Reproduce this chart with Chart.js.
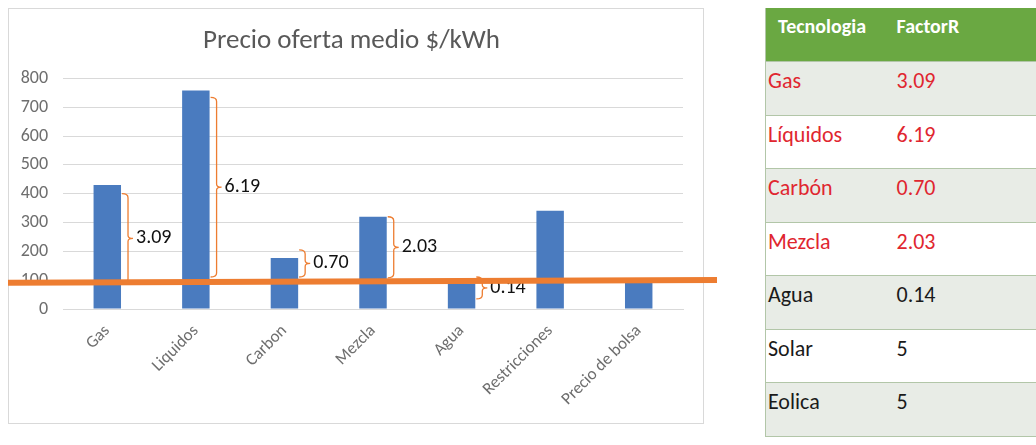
<!DOCTYPE html>
<html>
<head>
<meta charset="utf-8">
<script src="https://cdn.jsdelivr.net/npm/chart.js@4"></script>
<style>
  body { margin: 0; background: #fff; overflow: hidden; font-family: Carlito, Lato, sans-serif; }
  #frame { position: absolute; left: 8px; top: 8px; width: 694px; height: 414px; border: 1px solid #d9d9d9; }
  #wrap { position: absolute; left: 0; top: 0; width: 730px; height: 445px; }
  table { position: absolute; left: 765px; top: 8px; width: 300px; border-collapse: collapse; font-size: 22px; }
  td, th { height: 53.5px; padding: 0; vertical-align: top; text-align: left; border-bottom: 1.5px solid #b2c6a8; box-sizing: border-box; }
  td { padding-top: 5px; color: #1a1a1a; }
  th { background: #6aa842; color: #fff; font-weight: bold; font-size: 20px; padding-top: 6px; }
  th:first-child { padding-left: 12px; }
  td:first-child { padding-left: 2px; }
  tr td:first-child, tr th:first-child { border-left: 1.5px solid #b2c6a8; width: 131px; }
  tbody tr:nth-child(odd) td { background: #e8ece6; }
  .rojo { color: #e0262f; }
</style>
</head>
<body>
<div id="frame"></div>
<div id="wrap"><canvas id="chart"></canvas></div>
<table id="tabla"><thead><tr><th>Tecnologia</th><th>FactorR</th></tr></thead><tbody></tbody></table>
<script>
const $ = document.querySelector.bind(document);

// barras del grafico
const categorias = ["Gas", "Liquidos", "Carbon", "Mezcla", "Agua", "Restricciones", "Precio de bolsa"];
const precios = [430, 758, 177, 320, 88, 341, 95];
const yTicks = [0, 100, 200, 300, 400, 500, 600, 700, 800];

// linea naranja del precio de bolsa (extremo izq, extremo der)
const lineaBolsa = [91, 101];

// llaves con el factor, en unidades del eje
const llaveCategorias = ["Gas", "Liquidos", "Carbon", "Mezcla", "Agua"];
const llaveAlto = [400, 734, 205, 320, 111];
const llaveBajo = [90, 111, 111, 108, 35];
const llaveTexto = ["3.09", "6.19", "0.70", "2.03", "0.14"];

// tabla de la derecha
const tecnologias = ["Gas", "Líquidos", "Carbón", "Mezcla", "Agua", "Solar", "Eolica"];
const factorR = ["3.09", "6.19", "0.70", "2.03", "0.14", "5", "5"];
const enRojo = [true, true, true, true, false, false, false];

const FONT = "Carlito, Lato, sans-serif";

const extras = {
  id: "extras",
  afterDatasetsDraw(chart) {
    const ctx = chart.ctx;
    const y = chart.scales.y;
    const bars = chart.getDatasetMeta(0).data;
    ctx.save();
    // llaves
    llaveCategorias.forEach((cat, i) => {
      const bar = bars[categorias.indexOf(cat)];
      const x = bar.x + bar.width / 2 + 7;
      const top = y.getPixelForValue(llaveAlto[i]);
      const bot = y.getPixelForValue(llaveBajo[i]);
      const mid = (top + bot) / 2;
      ctx.strokeStyle = "#ed7d31";
      ctx.lineWidth = 1.3;
      ctx.beginPath();
      ctx.moveTo(x - 6, top);
      ctx.quadraticCurveTo(x, top, x, top + 4);
      ctx.lineTo(x, mid - 3);
      ctx.quadraticCurveTo(x, mid, x + 5, mid);
      ctx.quadraticCurveTo(x, mid, x, mid + 3);
      ctx.lineTo(x, bot - 4);
      ctx.quadraticCurveTo(x, bot, x - 6, bot);
      ctx.stroke();
      ctx.fillStyle = "#111";
      ctx.font = "20px " + FONT;
      ctx.textAlign = "left";
      ctx.textBaseline = "middle";
      ctx.fillText(llaveTexto[i], x + 8, mid);
    });
    // linea del precio de bolsa
    ctx.strokeStyle = "#ed7d31";
    ctx.lineWidth = 6;
    ctx.beginPath();
    ctx.moveTo(8, y.getPixelForValue(lineaBolsa[0]));
    ctx.lineTo(717, y.getPixelForValue(lineaBolsa[1]));
    ctx.stroke();
    ctx.restore();
  },
};

function initTabla() {
  const body = $("#tabla tbody");
  tecnologias.forEach((t, i) => {
    const tr = document.createElement("tr");
    const cls = enRojo[i] ? ' class="rojo"' : "";
    tr.innerHTML = `<td${cls}>${t}</td><td${cls}>${factorR[i]}</td>`;
    body.appendChild(tr);
  });
}

function chartPrecios() {
  new Chart($("#chart"), {
    type: "bar",
    data: {
      labels: categorias,
      datasets: [
        {
          label: "Precio",
          data: precios,
          backgroundColor: "#4a7bbf",
          barPercentage: 0.31,
          categoryPercentage: 1,
        },
      ],
    },
    options: {
      responsive: true,
      maintainAspectRatio: false,
      animation: false,
      layout: { padding: { left: 20, right: 47, top: 0, bottom: 0 } },
      plugins: {
        legend: { display: false },
        tooltip: { enabled: false },
        title: {
          display: true,
          text: "Precio oferta medio $/kWh",
          color: "#595959",
          font: { family: FONT, size: 27, weight: "normal" },
          padding: { top: 25, bottom: 21 },
        },
      },
      scales: {
        x: {
          grid: { display: false },
          border: { color: "#d9d9d9" },
          ticks: {
            color: "#6e6e6e",
            font: { family: FONT, size: 17 },
            minRotation: 45,
            maxRotation: 45,
            padding: 4,
          },
          afterFit: (scale) => { scale.height = 136; },
        },
        y: {
          min: 0,
          max: 800,
          afterBuildTicks: (scale) => { scale.ticks = yTicks.map((v) => ({ value: v })); },
          grid: { color: "#d9d9d9", drawTicks: false },
          border: { display: false },
          ticks: {
            color: "#6e6e6e",
            font: { family: FONT, size: 18 },
            padding: 15,
          },
          afterFit: (scale) => { scale.width = 43; },
        },
      },
    },
    plugins: [extras],
  });
}

document.addEventListener("DOMContentLoaded", () => {
  initTabla();
  chartPrecios();
});
</script>
</body>
</html>
